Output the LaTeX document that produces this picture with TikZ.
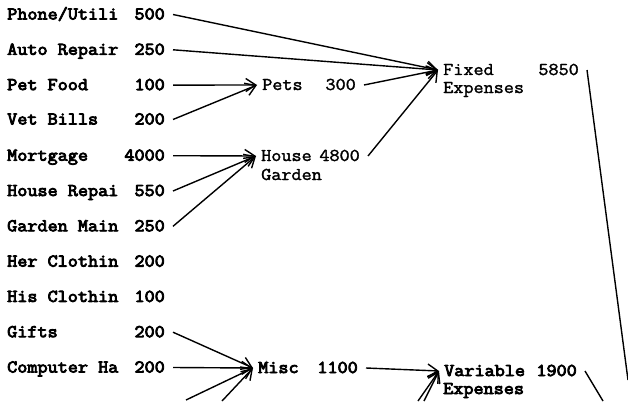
\documentclass[tikz,border=0pt]{standalone}
\usepackage{fontspec}
\newfontfamily\heavyfont[FakeBold=4.5,FakeStretch=1.09]{Latin Modern Mono}
\newfontfamily\lightfont[FakeBold=1.8,FakeStretch=1.09]{Latin Modern Mono}
\usetikzlibrary{arrows.meta}
\begin{document}
\begin{tikzpicture}[x=1pt,y=-1pt,
  base/.style={font=\heavyfont\fontsize{18}{18}\selectfont, inner ysep=1pt, text height=10pt, text depth=0pt},
  lite/.style={font=\lightfont\fontsize{18}{18}\selectfont, inner ysep=1pt, text height=10pt, text depth=0pt},
  lbl/.style={base, anchor=west, inner xsep=0pt},
  val/.style={base, anchor=east, inner xsep=8pt},
  sumname/.style={lite, anchor=west, inner xsep=5pt},
  sumtext/.style={lite, anchor=west, inner xsep=0pt},
  sumval/.style={lite, anchor=east, inner xsep=8pt},
  link/.style={line width=1.4pt, -{Straight Barb[length=10pt,width=13pt,line width=1.4pt]}},
  plain/.style={line width=1.4pt},
]
\useasboundingbox (0,0) rectangle (628,401);

% left column
\node[lbl] (n1) at (7,14.5) {Phone/Utili};   \node[val] (v1) at (173,14.5) {500};
\node[lbl] (n2) at (7,49.8) {Auto Repair};   \node[val] (v2) at (173,49.8) {250};
\node[lbl] (n3) at (7,85.1) {Pet Food};      \node[val] (v3) at (173,85.1) {100};
\node[lbl] (n4) at (7,119.5) {Vet Bills};    \node[val] (v4) at (173,119.5) {200};
\node[lbl] (n5) at (7,155.7) {Mortgage};     \node[val] (v5) at (173,155.7) {4000};
\node[lbl] (n6) at (7,191) {House Repai};    \node[val] (v6) at (173,191) {550};
\node[lbl] (n7) at (7,226.3) {Garden Main};  \node[val] (v7) at (173,226.3) {250};
\node[lbl] (n8) at (7,261.6) {Her Clothin};  \node[val] (v8) at (173,261.6) {200};
\node[lbl] (n9) at (7,296.9) {His Clothin};  \node[val] (v9) at (173,296.9) {100};
\node[lbl] (n10) at (7,332.2) {Gifts};       \node[val] (v10) at (173,332.2) {200};
\node[lbl] (n11) at (7,367.5) {Computer Ha}; \node[val] (v11) at (173,367.5) {200};

% intermediate sums
\node[sumname] (pets) at (257,85) {Pets};
\node[sumval] (petsv) at (364,85) {300};
\node[sumname] (house) at (256,156) {House};
\node[sumval] (housev) at (368,156) {4800};
\node[sumtext] (garden) at (261,175) {Garden};
\node[sumname, base] (misc) at (253,368) {Misc};
\node[sumval, base] (miscv) at (366,368) {1100};

% totals
\node[sumname] (fixed) at (438,70) {Fixed};
\node[sumtext] (fixed2) at (443,88) {Expenses};
\node[sumval] (fixedv) at (587,70) {5850};
\node[sumname, base] (var) at (439,371) {Variable};
\node[sumtext, base] (var2) at (443,389) {Expenses};
\node[sumval, base] (varv) at (585,371) {1900};

% free ends
\coordinate (b1) at (186,400);
\coordinate (b2) at (222,401);
\coordinate (b3) at (418,401);
\coordinate (b4) at (424,401);
\coordinate (fe) at (628,380);
\coordinate (ve) at (603,401);

% connectors
\draw[link] (v1.east) -- (fixed.west);
\draw[link] (v2.east) -- (fixed.west);
\draw[link] (v3.east) -- (pets.west);
\draw[link] (v4.east) -- (pets.west);
\draw[link] (petsv.east) -- (fixed.west);
\draw[link] (v5.east) -- (house.west);
\draw[link] (v6.east) -- (house.west);
\draw[link] (v7.east) -- (house.west);
\draw[link] (housev.east) -- (fixed.west);
\draw[link] (v10.east) -- (misc.west);
\draw[link] (v11.east) -- (misc.west);
\draw[link] (b1) -- (misc.west);
\draw[link] (b2) -- (misc.west);
\draw[link] (miscv.east) -- (var.west);
\draw[link] (b3) -- (var.west);
\draw[link] (b4) -- (var.west);
\draw[plain] (fixedv.east) -- (fe);
\draw[plain] (varv.east) -- (ve);
\end{tikzpicture}
\end{document}
